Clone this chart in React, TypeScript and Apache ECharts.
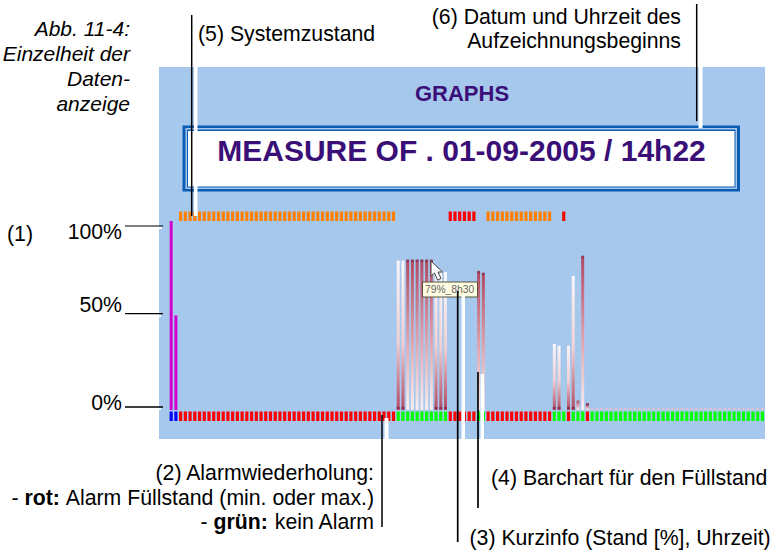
import React, { useEffect, useRef } from "react";
import * as echarts from "echarts";

// ---- data (one entry per sampling slot) ----
const fillLevels = [
  100, 50, 0, 0, 0, 0, 0, 0, 0, 0,
  0, 0, 0, 0, 0, 0, 0, 0, 0, 0,
  0, 0, 0, 0, 0, 0, 0, 0, 0, 0,
  0, 0, 0, 0, 0, 0, 0, 0, 0, 0,
  0, 0, 0, 0, 0, 0, 0, 0, 79, 79,
  79, 79, 79, 79, 79, 79, 73, 73, 73, 0,
  0, 0, 0, 0, 0, 73, 72, 0, 0, 0,
  0, 0, 0, 0, 0, 0, 0, 0, 0, 0,
  0, 35, 34, 0, 34, 71, 5, 81, 3, 1,
  1, 1, 1, 1, 1, 1, 1, 1, 1, 1,
  1, 1, 1, 1, 1, 1, 1, 1, 1, 1,
  1, 1, 1, 1, 1, 1, 1, 1, 1, 1,
  1, 1, 1, 1, 1, 1,
];
const startSlots = [0, 1];
const risingSlots = [50, 51, 52, 53, 54, 55, 65, 66, 86, 87, 88];
const fallingSlots = [48, 49, 56, 57, 58, 81, 82, 84, 85];
const uncappedSlots = [86];
const statusTop = (
  "__" +
  "OOOOOOOOOOOOOOOOOOOOOOOOOOOOOOOOOOOOOOOOOOOOOO" +
  "___________" +
  "RRRRRR" +
  "__" +
  "OOOOOOOOOOOOOO" +
  "__" +
  "R" +
  "__________________________________________"
).split("");
const statusBottom = (
  "BB" +
  "RRRRRRRRRRRRRRRRRRRRRRRRRRRRRRRRRRRRRRRRRRRRRR" +
  "GGGGGGGGGGG" +
  "RRRRRR" +
  "GG" +
  "RRRRRRRRRRRRRR" +
  "GGG" +
  "R" +
  "GGG" +
  "R" +
  "GGGGGGGGGGGGGGGGGGGGGGGGGGGGGGGGGGGGG"
).split("");
const tickLabels = ["100%", "50%", "0%"];
const slots = fillLevels.map((_, i) => String(i));

const titleText = "MEASURE OF . 01-09-2005 / 14h22";
const panelText = "GRAPHS";
const tooltipText = "79%_8h30";
const captionLines = ["Abb. 11-4:", "Einzelheit der", "Daten-", "anzeige"];

const statusColors: Record<string, string> = {
  O: "#ff8000",
  R: "#ff0000",
  G: "#00ff00",
  B: "#0000ff",
};

const FF = "'Liberation Sans', Arial, sans-serif";
const FS = 21.25;

const gradient = (top: string, mid: string, bottom: string) => ({
  type: "linear",
  x: 0,
  y: 0,
  x2: 0,
  y2: 1,
  colorStops: [
    { offset: 0, color: top },
    { offset: 0.55, color: mid },
    { offset: 1, color: bottom },
  ],
});

function barStyle(i: number) {
  if (startSlots.includes(i)) return { color: "#d000d0" };
  if (risingSlots.includes(i)) return { color: gradient("#b04a62", "#dfa6b0", "#f6eef2") };
  if (fallingSlots.includes(i)) return { color: gradient("#f8f6fa", "#f0cfd3", "#b04a62") };
  return { color: "#dfc0d6" };
}

function statusSeries(name: string, states: string[], axis: number) {
  return {
    name,
    type: "bar",
    xAxisIndex: axis,
    yAxisIndex: axis,
    barWidth: 3.2,
    silent: true,
    data: states.map((s) =>
      s === "_" ? "-" : { value: 1, itemStyle: { color: statusColors[s] } }
    ),
  };
}

const line = (x1: number, y1: number, x2: number, y2: number, stroke: string, lineWidth: number, z = 60) => ({
  type: "line",
  z,
  shape: { x1, y1, x2, y2 },
  style: { stroke, lineWidth },
});

const label = (
  text: string,
  x: number,
  baseline: number,
  align: string,
  extra: Record<string, unknown> = {}
) => ({
  type: "text",
  z: 70,
  x,
  y: baseline - 21 * 0.35,
  style: {
    text,
    x: 0,
    y: 0,
    align,
    verticalAlign: "middle",
    fill: "#000",
    fontFamily: FF,
    fontSize: FS,
    ...extra,
  },
});

const boldRich = { b: { fontFamily: FF, fontSize: FS, fontWeight: "bold", fill: "#000" } };

export default function App() {
  const ref = useRef<HTMLDivElement>(null);
  useEffect(() => {
    document.body.style.margin = "0";
    const chart = echarts.init(ref.current!, undefined, { renderer: "svg" });
    const capData = [
      ...risingSlots.filter((i) => !uncappedSlots.includes(i)).map((i) => [i, fillLevels[i]]),
      ...fallingSlots.map((i) => [i, 1]),
    ];
    const left = 168.8;
    const width = 596;
    const xAxis = [0, 1, 2].map((gridIndex) => ({
      type: "category",
      gridIndex,
      data: slots,
      show: false,
    }));
    chart.setOption({
      animation: false,
      backgroundColor: "#ffffff",
      grid: [
        { left, width, top: 221, height: 189 },
        { left, width, top: 211.5, height: 9.5 },
        { left, width, top: 411.5, height: 9.5 },
      ],
      xAxis,
      yAxis: [
        { type: "value", gridIndex: 0, min: 0, max: 100, show: false },
        { type: "value", gridIndex: 1, min: 0, max: 1, show: false },
        { type: "value", gridIndex: 2, min: 0, max: 1, show: false },
      ],
      series: [
        {
          name: "Füllstand",
          type: "bar",
          barWidth: 3,
          silent: true,
          data: fillLevels.map((v, i) =>
            v === 0 ? "-" : { value: v, itemStyle: barStyle(i) }
          ),
        },
        {
          name: "Marker",
          type: "scatter",
          symbol: "rect",
          symbolSize: [3, 2.5],
          silent: true,
          itemStyle: { color: "#86294a" },
          data: capData,
        },
        statusSeries("Systemzustand", statusTop, 1),
        statusSeries("Alarmwiederholung", statusBottom, 2),
      ],
      graphic: [
        { type: "rect", z: -10, shape: { x: 159, y: 67, width: 606, height: 372 }, style: { fill: "#a6c8ec" } },
        // title box
        { type: "rect", z: 1, shape: { x: 182.5, y: 125.5, width: 557.5, height: 66 }, style: { fill: "#0a5cb5" } },
        { type: "rect", z: 1, shape: { x: 185.5, y: 128, width: 551.5, height: 61 }, style: { fill: "#a6c8ec" } },
        { type: "rect", z: 1, shape: { x: 187, y: 129.5, width: 548.5, height: 58 }, style: { fill: "#0a5cb5" } },
        { type: "rect", z: 1, shape: { x: 188, y: 131, width: 546.5, height: 55.5 }, style: { fill: "#ffffff" } },
        label(panelText, 462, 101, "center", { fontWeight: "bold", fontSize: 22, fill: "#3a0f78" }),
        label(titleText, 461.5, 157.5, "center", { fontWeight: "bold", fontSize: 30, fill: "#3a0f78" }),
        // tooltip and pointer
        { type: "rect", z: 50, shape: { x: 422.5, y: 282, width: 55, height: 15 }, style: { fill: "#fffde1", stroke: "#55553c", lineWidth: 1 } },
        { type: "text", z: 51, x: 425, y: 289.5, style: { text: tooltipText, x: 0, y: 0, align: "left", verticalAlign: "middle", fill: "#666", fontFamily: FF, fontSize: 10.3 } },
        {
          type: "polygon",
          z: 52,
          shape: { points: [[431, 261], [431, 276], [434.5, 273], [437.5, 280], [441, 278.5], [438, 272], [442.5, 272]] },
          style: { fill: "#fff", stroke: "#444", lineWidth: 1 },
        },
        // white halos
        { type: "rect", z: 55, shape: { x: 194, y: 67, width: 3.5, height: 149 }, style: { fill: "#fff" } },
        { type: "rect", z: 55, shape: { x: 698.5, y: 67, width: 4, height: 61 }, style: { fill: "#fff" } },
        { type: "rect", z: 55, shape: { x: 384.5, y: 418, width: 4, height: 21 }, style: { fill: "#fff" } },
        { type: "rect", z: 55, shape: { x: 461.5, y: 296, width: 3.5, height: 143 }, style: { fill: "#fff" } },
        { type: "rect", z: 55, shape: { x: 480.5, y: 374, width: 3.5, height: 65 }, style: { fill: "#fff" } },
        { type: "rect", z: 55, shape: { x: 159, y: 227, width: 3, height: 2 }, style: { fill: "#fff" } },
        { type: "rect", z: 55, shape: { x: 159, y: 315, width: 2, height: 2 }, style: { fill: "#fff" } },
        { type: "rect", z: 55, shape: { x: 159, y: 408, width: 2, height: 2 }, style: { fill: "#fff" } },
        // leader lines
        line(191.7, 15, 191.7, 216, "#000", 1.5),
        line(696.7, 4, 696.7, 121, "#000", 1.5),
        line(125, 226, 163, 226, "#000", 1.2),
        line(125, 313.7, 163, 313.7, "#000", 1.2),
        line(125, 407, 163, 407, "#000", 1.7),
        line(382, 415, 382, 527, "#000", 1.5),
        line(457.7, 291, 457.7, 542, "#000", 1.7),
        line(478, 372, 478, 508, "#000", 1.7),
        // captions
        ...captionLines.map((t, i) => label(t, 130, 35.5 + i * 25, "right", { fontStyle: "italic", fontSize: 21 })),
        label("(5) Systemzustand", 198, 41.5, "left"),
        label("(6) Datum und Uhrzeit des", 681, 24, "right"),
        label("Aufzeichnungsbeginns", 681, 48, "right"),
        label("(1)", 7, 241, "left"),
        label(tickLabels[0], 122, 239.5, "right"),
        label(tickLabels[1], 122, 312, "right"),
        label(tickLabels[2], 122, 410, "right"),
        label("(2) Alarmwiederholung:", 374, 480, "right"),
        label("- {b|rot:} Alarm Füllstand (min. oder max.)", 374, 505, "right", { rich: boldRich }),
        label("- {b|grün:} kein Alarm", 374, 529.5, "right", { rich: boldRich }),
        label("(4) Barchart für den Füllstand", 491, 485, "left"),
        label("(3) Kurzinfo (Stand [%], Uhrzeit)", 469.5, 545, "left"),
      ],
    });
    return () => chart.dispose();
  }, []);
  return <div ref={ref} style={{ width: 779, height: 552, position: "absolute", left: 0, top: 0 }} />;
}
